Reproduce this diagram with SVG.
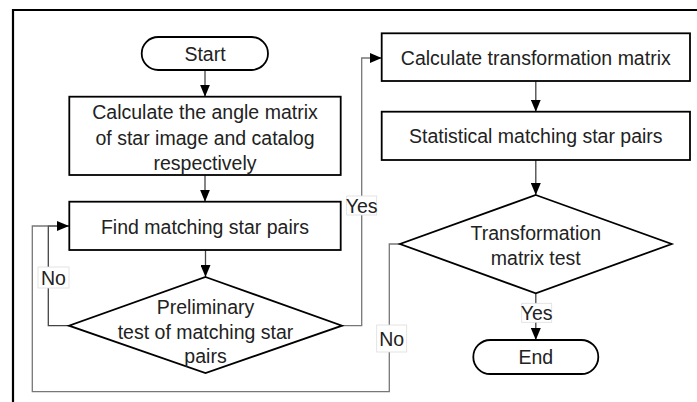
<svg xmlns="http://www.w3.org/2000/svg" width="697" height="402" viewBox="0 0 697 402">
<style>
.box{fill:#fff;stroke:#000;stroke-width:1.8}
.t{font-family:"Liberation Sans",Arial,sans-serif;font-size:19.5px;fill:#222;text-anchor:middle;dominant-baseline:central}
.c{fill:none;stroke:#444;stroke-width:1.3}
.g{fill:none;stroke:#777;stroke-width:1.3}
.lb{fill:#fff;stroke:#ddd;stroke-width:0.8}
</style>
<defs>
<marker id="ah" viewBox="0 0 12 10" refX="12" refY="5" markerWidth="12" markerHeight="10" markerUnits="userSpaceOnUse" orient="auto">
<path d="M0,0 L12,5 L0,10 Z" fill="#000"/>
</marker>
</defs>
<rect width="697" height="402" fill="#fff"/>
<path d="M13,402 V10 H697" fill="none" stroke="#000" stroke-width="2.2"/>
<g id="connectors">
<path class="c" d="M205,70 V96.7" marker-end="url(#ah)"/>
<path class="c" d="M205,175 V201.7" marker-end="url(#ah)"/>
<path class="c" d="M205.5,250 V277" marker-end="url(#ah)"/>
<path class="c" d="M69,325.7 H48.3 V226 H69" marker-end="url(#ah)"/>
<path class="g" d="M400,244 H389.3 V391.7 H32.3 V226 H48.3"/>
<path class="g" d="M342,325.7 H361.7 V58 H381.7" marker-end="url(#ah)"/>
<path class="c" d="M535.8,81 V111.7" marker-end="url(#ah)"/>
<path class="c" d="M535.8,160 V195" marker-end="url(#ah)"/>
<path class="c" d="M535.8,293.3 V340" marker-end="url(#ah)"/>
<g id="lbl-no1"><rect class="lb" x="38" y="267" width="31" height="21"/><text class="t" x="53.5" y="277.5">No</text></g>
<g id="lbl-yes1"><rect class="lb" x="346.7" y="196" width="30" height="19"/><text class="t" x="361.7" y="205.5">Yes</text></g>
<g id="lbl-no2"><rect class="lb" x="376.7" y="325" width="30" height="27"/><text class="t" x="391.7" y="338.5">No</text></g>
<g id="lbl-yes2"><rect class="lb" x="521.7" y="303.3" width="30" height="19"/><text class="t" x="536.7" y="312.8">Yes</text></g>
</g>
<g id="start"><rect class="box" x="141.7" y="37" width="126.3" height="33" rx="16.5"/><text class="t" x="205" y="53.5">Start</text></g>
<g id="calc-angle"><rect class="box" x="69.3" y="96.7" width="271.4" height="78.3"/>
<text class="t" x="205" y="112">Calculate the angle matrix</text>
<text class="t" x="205" y="138">of star image and catalog</text>
<text class="t" x="205" y="163">respectively</text></g>
<g id="find"><rect class="box" x="69.3" y="201.7" width="271.4" height="48.3"/><text class="t" x="205" y="227">Find matching star pairs</text></g>
<g id="prelim"><polygon class="box" points="205.5,277 342,325.7 205.5,373 69,325.7"/>
<text class="t" x="205.5" y="307">Preliminary</text>
<text class="t" x="205.5" y="332">test of matching star</text>
<text class="t" x="205.5" y="356">pairs</text></g>
<g id="calc-trans"><rect class="box" x="381.7" y="33.3" width="308.3" height="47.7"/><text class="t" x="535.8" y="58">Calculate transformation matrix</text></g>
<g id="stat"><rect class="box" x="381.7" y="111.7" width="308.3" height="48.3"/><text class="t" x="535.8" y="136">Statistical matching star pairs</text></g>
<g id="trans-test"><polygon class="box" points="535.8,195 671.7,244 535.8,293.3 400,244"/>
<text class="t" x="535.8" y="233.3">Transformation</text>
<text class="t" x="535.8" y="258.3">matrix test</text></g>
<g id="end"><rect class="box" x="473.3" y="340" width="125" height="34" rx="17"/><text class="t" x="535.8" y="357">End</text></g>
</svg>
